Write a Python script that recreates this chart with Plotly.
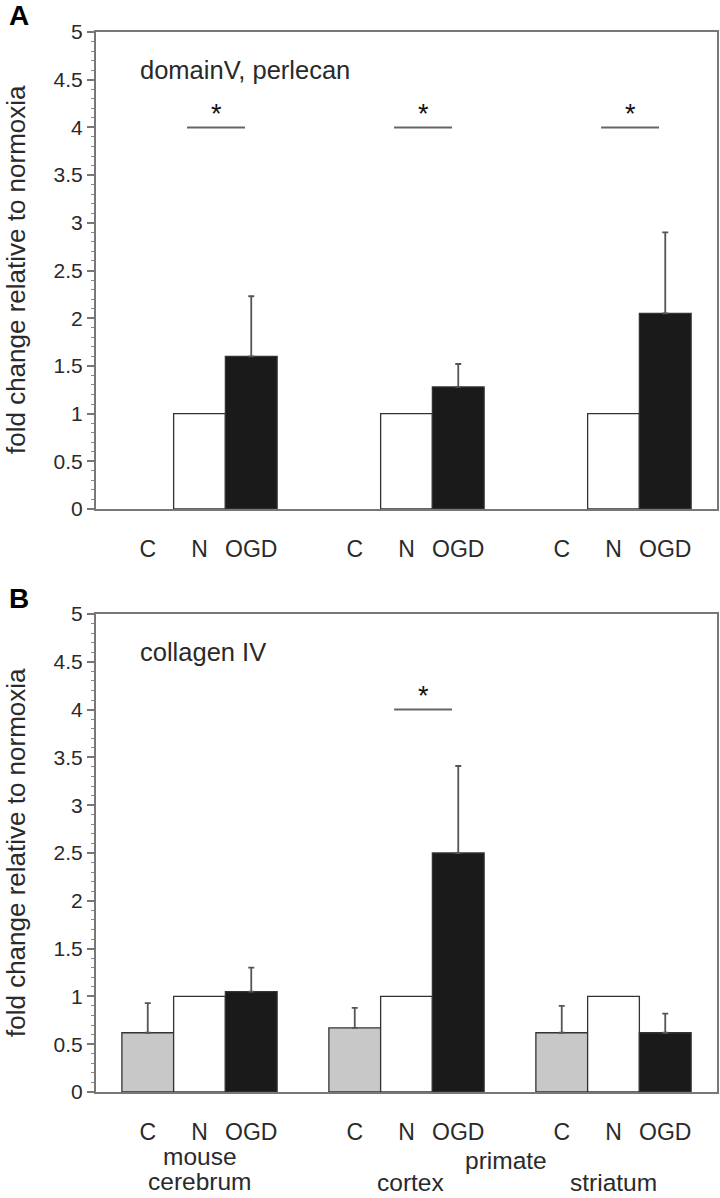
import plotly.graph_objects as go

groups = [0, 1, 2]
cond_labels = ["C", "N", "OGD"]

# Panel A: domainV, perlecan
a_C = [None, None, None]
a_N = [1.0, 1.0, 1.0]
a_OGD = [1.6, 1.28, 2.05]
a_OGD_err = [0.63, 0.24, 0.85]
a_sig = [0, 1, 2]

# Panel B: collagen IV
b_C = [0.62, 0.67, 0.62]
b_C_err = [0.31, 0.21, 0.28]
b_N = [1.0, 1.0, 1.0]
b_OGD = [1.05, 2.5, 0.62]
b_OGD_err = [0.25, 0.91, 0.2]
b_sig = [1]

region_text = ["mouse", "cerebrum", "primate", "cortex", "striatum"]

FONT = "Liberation Sans, Arial, sans-serif"
EDGE = "#333333"
ERRC = "#555555"
TXT = "#2a2a2a"
W = 720.0
H = 1198.0


def px(x):
    return x / W


def py(y):
    return 1 - y / H


fig = go.Figure()


def add_panel(xa, ya, C, Cerr, N, OGD, OGDerr):
    fig.add_trace(go.Bar(x=groups, y=C, xaxis=xa, yaxis=ya, marker=dict(color="#c8c8c8", line=dict(color=EDGE, width=1.3)),
                         error_y=dict(type="data", array=Cerr, arrayminus=[0]*3, symmetric=False, color=ERRC, thickness=1.8, width=3) if Cerr else None,
                         offsetgroup="C", showlegend=False))
    fig.add_trace(go.Bar(x=groups, y=N, xaxis=xa, yaxis=ya, marker=dict(color="white", line=dict(color=EDGE, width=1.3)),
                         offsetgroup="N", showlegend=False))
    fig.add_trace(go.Bar(x=groups, y=OGD, xaxis=xa, yaxis=ya, marker=dict(color="#1a1a1a", line=dict(color=EDGE, width=1.3)),
                         error_y=dict(type="data", array=OGDerr, arrayminus=[0]*3, symmetric=False, color=ERRC, thickness=1.8, width=3),
                         offsetgroup="OGD", showlegend=False))


add_panel("x", "y", a_C, None, a_N, a_OGD, a_OGD_err)
add_panel("x2", "y2", b_C, b_C_err, b_N, b_OGD, b_OGD_err)

tickvals = []
ticktext = []
for g in groups:
    for i, lab in enumerate(cond_labels):
        tickvals.append(g + (i - 1) * 0.25)
        ticktext.append(lab)

xcommon = dict(range=[-0.5, 2.5], tickvals=tickvals, ticktext=ticktext, ticks="", showgrid=False, zeroline=False,
               showline=True, linecolor="#777777", linewidth=2, mirror=True, automargin=False,
               tickfont=dict(family=FONT, size=23, color=TXT), ticklabelstandoff=18)
ycommon = dict(range=[0, 5], dtick=0.5, ticks="outside", ticklen=7, tickwidth=1.5, tickcolor="#777777",
               minor=dict(dtick=0.1, ticks="outside", ticklen=3, tickcolor="#888888", tickwidth=1.2),
               showgrid=False, zeroline=False, showline=True, linecolor="#777777", linewidth=2, mirror=True,
               automargin=False, tickfont=dict(family=FONT, size=21, color=TXT))

fig.update_layout(
    width=720, height=1198, margin=dict(l=0, r=0, t=0, b=0),
    paper_bgcolor="white", plot_bgcolor="white",
    barmode="group", bargap=0.25, bargroupgap=0,
    xaxis=dict(domain=[px(96), px(717)], anchor="y", **xcommon),
    yaxis=dict(domain=[py(509), py(32)], anchor="x", **ycommon),
    xaxis2=dict(domain=[px(96), px(717)], anchor="y2", **xcommon),
    yaxis2=dict(domain=[py(1092), py(614)], anchor="x2", **ycommon),
)


def add_sig(xref, yref, sig):
    for g in sig:
        fig.add_shape(type="line", xref=xref, yref=yref, x0=g - 0.06, x1=g + 0.22, y0=4, y1=4,
                      line=dict(color="#666666", width=2))
        fig.add_annotation(xref=xref, yref=yref, x=g + 0.08, y=4.14, text="*", showarrow=False,
                           xanchor="center", yanchor="middle",
                           font=dict(family=FONT, size=27, color="#111111"))


add_sig("x", "y", a_sig)
add_sig("x2", "y2", b_sig)

fig.add_annotation(xref="x", yref="y", x=-0.295, y=4.6, text="domainV, perlecan", showarrow=False,
                   xanchor="left", yanchor="middle", font=dict(family=FONT, size=25.5, color=TXT))
fig.add_annotation(xref="x2", yref="y2", x=-0.295, y=4.6, text="collagen IV", showarrow=False,
                   xanchor="left", yanchor="middle", font=dict(family=FONT, size=25.5, color=TXT))

# y-axis titles
for yc in (270, 853):
    fig.add_annotation(xref="paper", yref="paper", x=px(16), y=py(yc), text="fold change relative to normoxia",
                       textangle=-90, showarrow=False, xanchor="center", yanchor="middle",
                       font=dict(family=FONT, size=26, color=TXT))

fig.add_annotation(xref="paper", yref="paper", x=px(19), y=py(16), text="<b>A</b>", showarrow=False,
                   xanchor="center", yanchor="middle", font=dict(family=FONT, size=28, color="black"))
fig.add_annotation(xref="paper", yref="paper", x=px(19), y=py(598), text="<b>B</b>", showarrow=False,
                   xanchor="center", yanchor="middle", font=dict(family=FONT, size=28, color="black"))

# region labels below panel B
region_x = [0.0, 0.0, 1.48, 1.02, 2.0]
region_y = [1156, 1181, 1160, None, None]
for t, xv, yv in zip(region_text, region_x, region_y):
    if yv is None:
        fig.add_annotation(xref="x2", yref="paper", x=xv, y=0, text=t, showarrow=False,
                           xanchor="center", yanchor="bottom", font=dict(family=FONT, size=24.5, color=TXT))
    else:
        fig.add_annotation(xref="x2", yref="paper", x=xv, y=py(yv), text=t, showarrow=False,
                           xanchor="center", yanchor="middle", font=dict(family=FONT, size=24.5, color=TXT))

fig.write_html("out.html", config={"displayModeBar": False},
               post_script="document.body.style.margin='0';document.body.style.padding='0';")
